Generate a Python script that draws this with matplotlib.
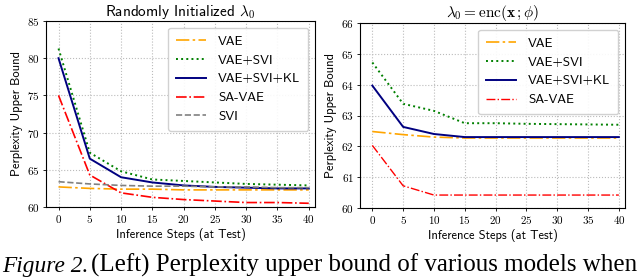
import matplotlib
matplotlib.use("Agg")
import matplotlib.pyplot as plt

plt.rcParams['mathtext.fontset'] = 'cm'
plt.rcParams['axes.formatter.use_mathtext'] = True

steps = [0, 5, 10, 15, 20, 25, 30, 35, 40]

# left panel: randomly initialized lambda_0
left_vae = [62.7, 62.5, 62.4, 62.4, 62.3, 62.3, 62.3, 62.3, 62.3]
left_vae_svi = [81.3, 67.3, 64.8, 63.7, 63.5, 63.3, 63.1, 63.0, 62.9]
left_vae_svi_kl = [80.0, 66.5, 64.0, 63.3, 62.9, 62.7, 62.6, 62.5, 62.5]
left_sa_vae = [75.0, 64.3, 61.9, 61.3, 61.0, 60.8, 60.6, 60.6, 60.5]
left_svi = [63.4, 63.1, 62.9, 62.8, 62.8, 62.7, 62.7, 62.6, 62.6]

# right panel: lambda_0 = enc(x; phi)
right_vae = [62.48, 62.38, 62.30, 62.27, 62.27, 62.27, 62.27, 62.27, 62.27]
right_vae_svi = [64.72, 63.38, 63.15, 62.75, 62.75, 62.73, 62.72, 62.71, 62.70]
right_vae_svi_kl = [63.97, 62.63, 62.40, 62.30, 62.30, 62.30, 62.30, 62.30, 62.30]
right_sa_vae = [62.03, 60.72, 60.42, 60.42, 60.42, 60.42, 60.42, 60.42, 60.42]

label_font = 'cmss10'
tick_font = 'cmr10'

fig = plt.figure(figsize=(6.4, 2.77), dpi=100)
ax1 = fig.add_axes([46/640, 1 - 207/277, 269/640, 186/277])
ax2 = fig.add_axes([360/640, 1 - 208/277, 265/640, 185/277])

def style(ax, ylim, yticks, title):
    ax.set_xlim(-2, 41)
    ax.set_ylim(*ylim)
    ax.set_xticks(steps)
    ax.set_yticks(yticks)
    ax.grid(True, linestyle=':', color='#bbbbbb', linewidth=0.8)
    for lab in ax.get_xticklabels() + ax.get_yticklabels():
        lab.set_fontfamily(tick_font)
        lab.set_fontsize(8)
    ax.tick_params(length=2.5, width=0.6, pad=2)
    ax.set_xlabel("Inference Steps (at Test)", fontfamily=label_font, fontsize=9, labelpad=2)
    ax.set_ylabel("Perplexity Upper Bound", fontfamily=label_font, fontsize=9, labelpad=3)
    ax.set_title(title, fontfamily=label_font, fontsize=11, pad=3)
    for s in ax.spines.values():
        s.set_linewidth(0.8)

leg_kw = dict(loc='upper right', prop={'family': label_font, 'size': 9.5},
              handlelength=2.3, labelspacing=0.5, borderpad=0.6, handletextpad=0.9,
              framealpha=0.9)

ax1.plot(steps, left_vae, color='orange', linestyle=(0, (8, 2, 1.5, 2)), lw=1.2, label='VAE')
ax1.plot(steps, left_vae_svi, color='green', linestyle=':', lw=1.4, label='VAE+SVI')
ax1.plot(steps, left_vae_svi_kl, color='navy', linestyle='-', lw=1.4, label='VAE+SVI+KL')
ax1.plot(steps, left_sa_vae, color='red', linestyle='-.', lw=1.2, label='SA-VAE')
ax1.plot(steps, left_svi, color='gray', linestyle='--', lw=1.2, label='SVI')
style(ax1, (60, 85), [60, 65, 70, 75, 80, 85], r"Randomly Initialized $\lambda_0$")
ax1.legend(**leg_kw)

ax2.plot(steps, right_vae, color='orange', linestyle=(0, (8, 2, 1.5, 2)), lw=1.2, label='VAE')
ax2.plot(steps, right_vae_svi, color='green', linestyle=':', lw=1.4, label='VAE+SVI')
ax2.plot(steps, right_vae_svi_kl, color='navy', linestyle='-', lw=1.4, label='VAE+SVI+KL')
ax2.plot(steps, right_sa_vae, color='red', linestyle='-.', lw=1.0, label='SA-VAE')
style(ax2, (60, 66), [60, 61, 62, 63, 64, 65, 66], r"$\lambda_0 = \mathrm{enc}(\mathbf{x}\,;\phi)$")
ax2.legend(**leg_kw)

# caption, cut off at the bottom edge like the source
cap_y = 1 - 272/277
fig.text(2/640, cap_y, "Figure 2.", fontfamily='Liberation Serif', style='italic',
         fontsize=16.8, va='baseline')
fig.text(91/640, cap_y, "(Left) Perplexity upper bound of various models when",
         fontfamily='Liberation Serif', fontsize=18, va='baseline')

fig.savefig("out.png", dpi=100)
